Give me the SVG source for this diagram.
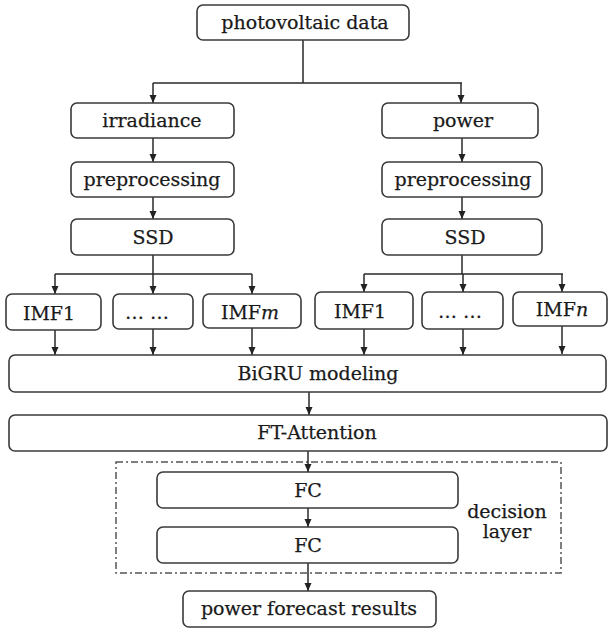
<svg xmlns="http://www.w3.org/2000/svg" width="609" height="631" viewBox="0 0 609 631">
<style>
.box{fill:#fff;stroke:#3a3a3a;stroke-width:1.6}
.t{font-family:"DejaVu Serif","Liberation Serif",serif;font-size:19px;fill:#1a1a1a;stroke:#1a1a1a;stroke-width:0.25;text-anchor:middle}
.c{fill:none;stroke:#2a2a2a;stroke-width:1.5}
.dash{fill:none;stroke:#555;stroke-width:1.5;stroke-dasharray:7 3 2 3}
</style>
<defs>
<marker id="ah" viewBox="0 0 8 8" refX="8" refY="4" markerWidth="8" markerHeight="8" markerUnits="userSpaceOnUse" orient="auto">
<path d="M0,0.5 L8,4 L0,7.5 z" fill="#222"/>
</marker>
</defs>
<rect width="609" height="631" fill="#fff"/>
<g id="decision-layer">
<rect class="dash" x="116" y="462" width="445" height="111"/>
<text class="t" x="507" y="518">decision</text>
<text class="t" x="507" y="538">layer</text>
</g>
<g id="connectors">
<path class="c" d="M303,40 V83 M153,83 H462"/>
<path class="c" marker-end="url(#ah)" d="M153,83 V103"/>
<path class="c" marker-end="url(#ah)" d="M461,83 V103"/>
<path class="c" marker-end="url(#ah)" d="M153,138 V162"/>
<path class="c" marker-end="url(#ah)" d="M153,197 V219"/>
<path class="c" marker-end="url(#ah)" d="M462,138 V162"/>
<path class="c" marker-end="url(#ah)" d="M462,197 V219"/>
<path class="c" d="M153,255 V274 M55,274 H252 M462,255 V274 M364,274 H563"/>
<path class="c" marker-end="url(#ah)" d="M55,274 V294"/>
<path class="c" marker-end="url(#ah)" d="M153,274 V294"/>
<path class="c" marker-end="url(#ah)" d="M252,274 V294"/>
<path class="c" marker-end="url(#ah)" d="M364,274 V292"/>
<path class="c" marker-end="url(#ah)" d="M463,274 V292"/>
<path class="c" marker-end="url(#ah)" d="M562,274 V292"/>
<path class="c" marker-end="url(#ah)" d="M55,330 V355"/>
<path class="c" marker-end="url(#ah)" d="M153,329 V355"/>
<path class="c" marker-end="url(#ah)" d="M252,328 V355"/>
<path class="c" marker-end="url(#ah)" d="M364,329 V355"/>
<path class="c" marker-end="url(#ah)" d="M463,329 V355"/>
<path class="c" marker-end="url(#ah)" d="M562,326 V354"/>
<path class="c" marker-end="url(#ah)" d="M309,392 V415"/>
<path class="c" marker-end="url(#ah)" d="M308,451 V472"/>
<path class="c" marker-end="url(#ah)" d="M308,508 V527"/>
<path class="c" marker-end="url(#ah)" d="M308,563 V591"/>
</g>
<g id="photovoltaic-data">
<rect class="box" x="197" y="5" width="212" height="35" rx="6"/>
<text class="t" x="305" y="29">photovoltaic data</text>
</g>
<g id="irradiance">
<rect class="box" x="71" y="103" width="163" height="35" rx="6"/>
<text class="t" x="152" y="127">irradiance</text>
</g>
<g id="power">
<rect class="box" x="382" y="103" width="156" height="35" rx="6"/>
<text class="t" x="463" y="127">power</text>
</g>
<g id="preprocessing-left">
<rect class="box" x="71" y="162" width="163" height="35" rx="6"/>
<text class="t" x="152" y="186">preprocessing</text>
</g>
<g id="preprocessing-right">
<rect class="box" x="382" y="162" width="160" height="35" rx="6"/>
<text class="t" x="463" y="186">preprocessing</text>
</g>
<g id="ssd-left">
<rect class="box" x="71" y="219" width="163" height="36" rx="6"/>
<text class="t" x="153" y="244">SSD</text>
</g>
<g id="ssd-right">
<rect class="box" x="382" y="219" width="160" height="36" rx="6"/>
<text class="t" x="465" y="244">SSD</text>
</g>
<g id="imf1-left">
<rect class="box" x="6" y="294" width="95" height="36" rx="6"/>
<text class="t" x="49" y="320">IMF1</text>
</g>
<g id="dots-left">
<rect class="box" x="113" y="294" width="80" height="35" rx="6"/>
<text class="t" x="147" y="319">… …</text>
</g>
<g id="imfm">
<rect class="box" x="203" y="294" width="98" height="34" rx="6"/>
<text class="t" x="250" y="319">IMF<tspan font-style="italic">m</tspan></text>
</g>
<g id="imf1-right">
<rect class="box" x="315" y="292" width="98" height="37" rx="6"/>
<text class="t" x="360" y="318">IMF1</text>
</g>
<g id="dots-right">
<rect class="box" x="422" y="292" width="81" height="37" rx="6"/>
<text class="t" x="460" y="318">… …</text>
</g>
<g id="imfn">
<rect class="box" x="513" y="292" width="94" height="34" rx="6"/>
<text class="t" x="562" y="316">IMF<tspan font-style="italic">n</tspan></text>
</g>
<g id="bigru">
<rect class="box" x="9" y="355" width="597" height="37" rx="6"/>
<text class="t" x="318" y="380">BiGRU modeling</text>
</g>
<g id="ft-attention">
<rect class="box" x="9" y="415" width="598" height="36" rx="6"/>
<text class="t" x="317" y="439">FT-Attention</text>
</g>
<g id="fc1">
<rect class="box" x="157" y="472" width="301" height="36" rx="6"/>
<text class="t" x="308" y="497">FC</text>
</g>
<g id="fc2">
<rect class="box" x="157" y="527" width="301" height="36" rx="6"/>
<text class="t" x="308" y="552">FC</text>
</g>
<g id="power-forecast-results">
<rect class="box" x="183" y="591" width="253" height="36" rx="6"/>
<text class="t" x="309" y="615">power forecast results</text>
</g>
</svg>
